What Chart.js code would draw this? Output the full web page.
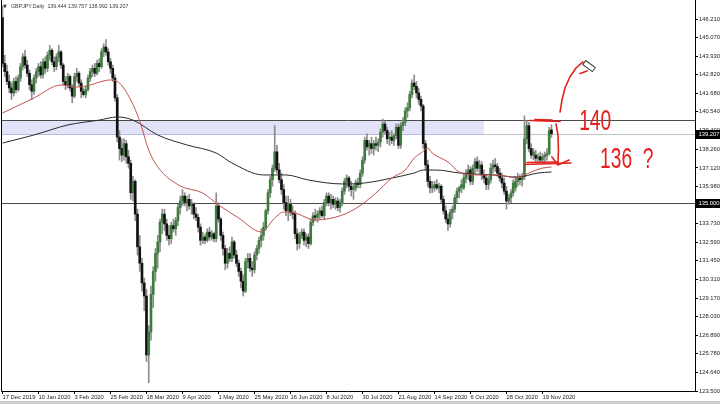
<!DOCTYPE html>
<html>
<head>
<meta charset="utf-8">
<script src="https://cdn.jsdelivr.net/npm/chart.js@4.4.1/dist/chart.umd.min.js"></script>
<style>
  html, body { margin: 0; padding: 0; background: #fff; }
  #wrap { width: 720px; height: 404px; }
</style>
</head>
<body>
<div id="wrap"><canvas id="chart" width="720" height="404"></canvas></div>
<script>
/* ===== DATA (GBPJPY daily, 17 Dec 2019 .. 25 Nov 2020) ===== */
const opens = [
  146.3,143.5,143.0,142.4,142.0,141.7,142.4,141.9,142.6,143.3,
  143.9,143.4,142.9,142.2,141.8,142.6,143.0,143.3,142.8,143.6,
  143.2,144.0,144.3,143.6,143.3,143.9,144.2,143.4,142.4,142.2,
  142.7,142.0,141.5,142.7,142.9,142.3,141.8,141.6,141.9,142.6,
  143.0,143.2,142.9,143.5,143.3,144.2,144.5,144.2,143.6,143.2,
  142.6,141.4,139.0,138.3,137.9,138.6,137.8,137.4,135.6,136.3,
  134.3,132.3,131.3,130.1,129.3,125.7,127.1,129.4,130.8,131.9,
  132.6,133.8,134.3,133.7,133.0,132.8,133.6,133.4,133.9,134.7,
  135.1,135.4,135.0,135.2,134.8,134.9,134.3,134.1,133.5,132.7,
  132.9,132.7,133.2,132.9,133.1,132.8,134.8,134.0,133.0,132.2,
  131.3,131.9,131.6,132.6,131.8,131.3,130.8,130.2,129.6,131.4,
  131.6,131.0,130.9,131.8,132.2,132.7,133.0,133.5,134.5,135.6,
  136.4,137.1,138.1,137.0,136.4,135.8,135.0,134.5,134.9,134.4,
  134.3,133.1,132.5,133.0,133.2,132.7,132.9,132.5,133.8,134.2,
  134.1,134.3,134.5,134.2,135.0,135.4,135.0,135.2,134.9,135.1,
  134.7,135.0,135.7,136.3,136.5,136.0,135.8,135.9,136.2,136.1,
  136.8,137.6,138.8,138.4,138.6,138.3,138.6,138.5,138.7,139.3,
  139.8,139.4,138.9,139.0,138.8,139.1,139.6,138.5,139.7,139.9,
  140.6,140.8,141.6,142.3,142.1,141.7,141.3,140.9,138.6,137.3,
  136.3,135.9,135.9,136.1,135.9,136.0,135.2,134.5,134.0,133.7,
  134.4,134.6,135.3,135.7,135.9,135.9,136.5,136.8,137.0,136.3,
  137.1,137.5,137.1,137.3,136.7,136.5,136.1,136.4,137.1,137.3,
  137.2,136.8,136.5,136.2,135.7,135.1,135.3,135.6,135.9,136.3,
  136.5,136.4,136.6,138.9,139.7,138.3,137.9,137.9,137.7,137.8,
  137.6,137.8,137.9,138.0,139.444
];
const highs = [
  147.0,144.0,143.4,142.8,142.3,142.6,142.7,142.8,143.5,144.1,
  144.3,143.7,143.1,142.5,142.8,143.2,143.5,143.6,143.8,143.9,
  144.2,144.6,144.4,143.9,144.1,144.6,144.3,143.5,142.7,142.9,
  142.8,142.2,142.9,143.2,143.0,142.5,142.0,142.1,142.8,143.2,
  143.4,143.5,143.7,143.8,144.4,144.7,144.95,144.4,143.8,143.4,
  142.8,141.6,139.4,138.9,138.9,138.8,138.2,137.6,136.6,136.4,
  134.6,133.0,131.6,130.4,129.7,127.5,129.9,131.1,132.2,133.0,
  134.0,134.6,134.6,134.0,133.6,133.8,134.0,134.1,134.9,135.4,
  135.8,135.6,135.4,135.5,135.2,135.0,134.7,134.3,133.7,133.2,
  133.1,133.4,133.5,133.3,133.2,135.6,135.0,134.1,133.2,132.4,
  132.2,132.3,132.9,132.7,132.1,131.5,131.0,130.6,131.6,131.9,
  131.9,131.4,132.0,132.4,132.9,133.4,133.8,134.6,135.8,136.6,
  137.3,139.7,138.5,137.4,136.8,136.1,135.4,135.4,135.2,134.8,
  134.5,133.4,133.2,133.4,133.4,133.1,133.1,134.0,134.4,134.6,
  134.5,134.7,134.8,135.2,135.6,135.6,135.5,135.4,135.3,135.3,
  135.2,135.9,136.5,136.7,136.6,136.3,136.1,136.4,136.5,137.0,
  137.8,139.0,139.2,138.8,139.0,138.8,139.0,138.9,139.5,140.1,
  140.0,139.6,139.3,139.4,139.2,139.8,139.8,139.9,140.2,140.8,
  141.1,141.8,142.5,142.8,142.4,142.0,141.5,141.0,138.8,137.6,
  136.6,136.3,136.3,136.4,136.2,136.1,135.4,134.8,134.3,134.6,
  134.8,135.5,135.9,136.0,136.4,136.8,137.0,137.3,137.2,137.3,
  137.7,137.8,137.6,137.5,137.0,136.7,136.6,137.4,137.6,137.7,
  137.4,137.1,136.8,136.5,136.0,135.5,135.8,136.4,136.6,136.8,
  136.7,136.8,140.3,140.0,139.9,138.6,138.3,138.2,138.0,138.1,
  138.0,138.1,138.3,139.6,139.757
];
const lows = [
  143.3,142.7,142.2,141.7,141.3,141.5,141.7,141.8,142.4,143.1,
  143.2,142.7,141.9,141.3,141.6,142.3,142.7,142.6,142.6,142.9,
  143.0,143.7,143.4,143.0,143.1,143.6,143.2,142.2,141.9,142.0,
  141.8,141.1,141.4,142.4,142.1,141.4,141.5,141.4,141.8,142.4,
  142.7,142.7,142.8,143.0,143.2,143.9,144.0,143.4,142.9,142.4,
  141.2,138.7,137.6,137.5,137.6,137.4,137.1,135.2,135.1,133.9,
  131.8,130.8,129.6,128.4,125.3,124.0,126.6,128.6,130.2,131.0,
  132.0,133.1,133.3,132.7,132.4,132.5,133.2,133.0,133.6,134.3,
  134.8,134.8,134.5,134.6,134.3,134.0,133.9,133.2,132.4,132.5,
  132.5,132.6,132.7,132.7,132.6,132.6,133.8,132.7,131.8,130.9,
  131.0,131.4,131.4,131.6,131.1,130.5,129.8,129.3,129.5,131.0,
  130.8,130.5,130.7,131.5,131.9,132.3,132.7,133.3,134.3,135.3,
  136.0,136.9,136.8,136.2,135.5,134.6,134.2,133.9,134.2,134.0,
  132.8,132.1,132.2,132.8,132.4,132.3,132.2,132.4,133.6,133.9,
  133.8,134.0,134.1,134.0,134.8,134.8,134.6,134.7,134.6,134.5,
  134.4,134.8,135.5,135.9,135.7,135.4,135.2,135.7,135.9,135.9,
  136.6,137.4,138.2,137.9,138.0,137.9,138.2,138.1,138.4,139.0,
  139.2,138.6,138.5,138.6,138.5,138.9,138.3,138.3,139.4,139.7,
  140.2,140.6,141.4,141.9,141.4,141.0,140.6,138.3,137.0,136.0,
  135.6,135.6,135.7,135.8,135.6,135.0,134.3,133.8,133.3,133.5,
  134.0,134.4,135.0,135.3,135.6,135.8,136.2,136.4,136.1,136.1,
  136.8,136.9,136.8,136.4,136.2,135.8,135.8,136.2,136.8,136.9,
  136.6,136.3,135.9,135.5,134.6,134.9,135.0,135.4,135.7,136.0,
  136.1,136.0,136.4,138.6,138.1,137.7,137.6,137.5,137.4,137.5,
  137.4,137.4,137.6,137.9,138.992
];
const closes = [
  143.5,143.0,142.4,142.0,141.7,142.4,141.9,142.6,143.3,143.9,
  143.4,142.9,142.2,141.8,142.6,143.0,143.3,142.8,143.6,143.2,
  144.0,144.3,143.6,143.3,143.9,144.2,143.4,142.4,142.2,142.7,
  142.0,141.5,142.7,142.9,142.3,141.8,141.6,141.9,142.6,143.0,
  143.2,142.9,143.5,143.3,144.2,144.5,144.2,143.6,143.2,142.6,
  141.4,139.0,138.3,137.9,138.6,137.8,137.4,135.6,136.3,134.3,
  132.3,131.3,130.1,129.3,125.7,127.1,129.4,130.8,131.9,132.6,
  133.8,134.3,133.7,133.0,132.8,133.6,133.4,133.9,134.7,135.1,
  135.4,135.0,135.2,134.8,134.9,134.3,134.1,133.5,132.7,132.9,
  132.7,133.2,132.9,133.1,132.8,134.8,134.0,133.0,132.2,131.3,
  131.9,131.6,132.6,131.8,131.3,130.8,130.2,129.6,131.4,131.6,
  131.0,130.9,131.8,132.2,132.7,133.0,133.5,134.5,135.6,136.4,
  137.1,138.1,137.0,136.4,135.8,135.0,134.5,134.9,134.4,134.3,
  133.1,132.5,133.0,133.2,132.7,132.9,132.5,133.8,134.2,134.1,
  134.3,134.5,134.2,135.0,135.4,135.0,135.2,134.9,135.1,134.7,
  135.0,135.7,136.3,136.5,136.0,135.8,135.9,136.2,136.1,136.8,
  137.6,138.8,138.4,138.6,138.3,138.6,138.5,138.7,139.3,139.8,
  139.4,138.9,139.0,138.8,139.1,139.6,138.5,139.7,139.9,140.6,
  140.8,141.6,142.3,142.1,141.7,141.3,140.9,138.6,137.3,136.3,
  135.9,136.0,136.1,135.9,136.0,135.2,134.5,134.0,133.7,134.4,
  134.6,135.3,135.7,135.9,136.1,136.5,136.8,137.0,136.3,137.1,
  137.5,137.1,137.3,136.7,136.5,136.1,136.4,137.1,137.3,137.2,
  136.8,136.5,136.2,135.7,135.1,135.3,135.6,136.2,136.3,136.5,
  136.4,136.6,138.9,139.7,138.3,137.9,138.1,137.7,137.8,137.6,
  137.8,137.9,138.0,139.4,139.207
];

// moving averages (bar index -> price)
const maRedIdx = [0,14,26,33,39,43,48,52,57,61,65,69,79,89,96,105,115,121,125,130,139,151,158,166,173,179,183,186,189,191,198,203,211,220,229,232,240,244];
const maRedVal = [140.47,141.39,142.18,142.06,142.18,142.36,142.49,142.3,141.27,139.98,138.21,137.18,136.02,135.59,134.86,134.06,133.21,134.06,134.43,134.37,133.94,134.24,134.73,135.59,136.5,136.99,137.72,138.03,138.33,138.03,137.48,136.87,136.69,136.69,136.5,136.69,137.11,137.17];
const maBlackIdx = [0,14,29,43,51,58,69,82,95,102,116,126,136,151,161,173,183,187,193,203,218,229,238,244];
const maBlackVal = [138.64,139.13,139.74,140.04,140.23,140.04,139.13,138.52,138.03,137.42,136.69,136.69,136.38,136.14,136.2,136.5,136.81,136.99,136.99,136.81,136.69,136.56,136.81,136.87];

const dateTicks = [0,16,32,48,64,80,96,112,128,144,160,176,192,208,224,240];
const dateLabels = ["17 Dec 2019","10 Jan 2020","3 Feb 2020","25 Feb 2020","18 Mar 2020","9 Apr 2020","1 May 2020","25 May 2020","16 Jun 2020","8 Jul 2020","30 Jul 2020","21 Aug 2020","14 Sep 2020","6 Oct 2020","28 Oct 2020","19 Nov 2020"];
const priceTicks = [146.21,145.07,143.93,142.82,141.68,140.54,139.40,138.26,137.12,135.98,134.87,133.73,132.59,131.45,130.31,129.17,128.03,126.89,125.78,124.64,123.50];

const resistance = 140.04;
const support = 135.0;
const bid = 139.207;
const zoneLow = 139.2;
const zoneEnd = 214;
const header = "GBPJPY,Daily  139.444 139.757 138.992 139.207";

/* ===== PEN MARKUP (bar index, price) ===== */
const penStrokes = [
  [[234.4,140.01],[247.8,139.95]],
  [[236.7,140.08],[244.2,140.04]],
  [[246.0,139.80],[246.9,139.13],[247.1,138.21],[246.9,137.42]],
  [[244.2,137.79],[246.9,137.30],[251.8,137.60]],
  [[232.2,137.33],[252.7,137.42]],
  [[233.1,137.45],[246.7,137.48]],
  [[247.8,140.53],[248.7,141.27],[250.0,142.00],[252.2,142.67],[254.9,143.22],[258.0,143.59]],
  [[256.7,142.88],[259.8,143.04]]
];
const penNotes = [
  { text: "140", at: [256.3, 139.43] },
  { text: "136  ?", at: [265.6, 137.11] }
];
const penCursor = [260.7, 143.34];

const axisFont = { family: "'Liberation Sans', Arial, sans-serif", size: 5.8 };
const idx = closes.map((_, i) => i);

/* ===== PLUGINS ===== */
const backdrop = {
  id: "backdrop",
  beforeDatasetsDraw(chart) {
    const { ctx, chartArea: a, scales: { x, y } } = chart;
    const hline = (v, color, x2) => {
      const py = Math.round(y.getPixelForValue(v)) + 0.5;
      ctx.strokeStyle = color;
      ctx.lineWidth = 1;
      ctx.beginPath();
      ctx.moveTo(a.left, py);
      ctx.lineTo(x2 || a.right, py);
      ctx.stroke();
    };
    ctx.save();
    const zTop = y.getPixelForValue(resistance);
    const zBot = y.getPixelForValue(zoneLow);
    const zRight = x.getPixelForValue(zoneEnd);
    ctx.fillStyle = "#e2e2f8";
    ctx.fillRect(a.left, zTop, zRight - a.left, zBot - zTop);
    hline(bid, "#c2c2c2");
    hline(zoneLow, "#b8b8e6", zRight);
    hline(resistance, "#4a4a4a");
    hline(support, "#4a4a4a");
    ctx.restore();
  }
};

const overlay = {
  id: "overlay",
  afterDraw(chart) {
    const { ctx, chartArea: a, scales: { x, y } } = chart;
    ctx.save();

    // frame
    ctx.strokeStyle = "#000";
    ctx.lineWidth = 1;
    ctx.beginPath();
    ctx.moveTo(a.left - 0.5, 0);
    ctx.lineTo(a.left - 0.5, a.bottom + 0.5);
    ctx.lineTo(a.right + 0.5, a.bottom + 0.5);
    ctx.lineTo(a.right + 0.5, 0);
    ctx.stroke();

    // price boxes on the axis
    ctx.font = "5.8px 'Liberation Sans', Arial, sans-serif";
    ctx.textBaseline = "middle";
    ctx.textAlign = "left";
    [[bid, "139.207"], [support, "135.000"]].forEach(([v, label]) => {
      const py = Math.round(y.getPixelForValue(v));
      ctx.fillStyle = "#000";
      ctx.fillRect(a.right + 1, py - 4, 25, 9);
      ctx.fillStyle = "#fff";
      ctx.fillText(label, a.right + 3.5, py + 0.5);
    });

    // header
    ctx.fillStyle = "#3a3a3a";
    ctx.font = "5px 'DejaVu Sans', sans-serif";
    ctx.fillText("\u25BC", 3, 7);
    ctx.font = "5.3px 'Liberation Sans', Arial, sans-serif";
    ctx.fillText(header, 11, 7);

    // pen markup
    ctx.strokeStyle = "#e4211b";
    ctx.lineWidth = 1.6;
    ctx.lineCap = "round";
    ctx.lineJoin = "round";
    penStrokes.forEach(s => {
      ctx.beginPath();
      s.forEach(([i, p], k) => {
        const px = x.getPixelForValue(i), py = y.getPixelForValue(p);
        k ? ctx.lineTo(px, py) : ctx.moveTo(px, py);
      });
      ctx.stroke();
    });
    ctx.fillStyle = "#e4211b";
    ctx.font = "30px 'Liberation Sans', Arial, sans-serif";
    ctx.textBaseline = "alphabetic";
    penNotes.forEach(n => {
      ctx.save();
      ctx.translate(x.getPixelForValue(n.at[0]), y.getPixelForValue(n.at[1]));
      ctx.scale(0.64, 1);
      ctx.fillText(n.text, 0, 0);
      ctx.restore();
    });

    // pencil cursor
    const cx = x.getPixelForValue(penCursor[0]), cy = y.getPixelForValue(penCursor[1]);
    ctx.translate(cx, cy);
    ctx.rotate(Math.PI / 5);
    ctx.fillStyle = "#fff";
    ctx.strokeStyle = "#333";
    ctx.lineWidth = 1;
    ctx.fillRect(-6, -2.5, 12, 5);
    ctx.strokeRect(-6, -2.5, 12, 5);
    ctx.setTransform(1, 0, 0, 1, 0, 0);

    // bottom strip
    ctx.fillStyle = "#cdcdcd";
    ctx.fillRect(0, 401, 720, 3);
    ctx.restore();
  }
};

/* ===== CHART ===== */
new Chart(document.getElementById("chart"), {
  type: "bar",
  data: {
    datasets: [
      {
        type: "line",
        data: maRedIdx.map((v, k) => ({ x: v, y: maRedVal[k] })),
        borderColor: "#c4504c",
        borderWidth: 1,
        pointRadius: 0,
        cubicInterpolationMode: "monotone",
        order: 0
      },
      {
        type: "line",
        data: maBlackIdx.map((v, k) => ({ x: v, y: maBlackVal[k] })),
        borderColor: "#2a2a2a",
        borderWidth: 1,
        pointRadius: 0,
        cubicInterpolationMode: "monotone",
        order: 0
      },
      {
        data: idx.map(i => ({ x: i, y: [opens[i], closes[i]] })),
        backgroundColor: c => closes[c.dataIndex] >= opens[c.dataIndex] ? "#3d7c3d" : "#111",
        barThickness: 2,
        minBarLength: 1,
        grouped: false,
        order: 1
      },
      {
        data: idx.map(i => ({ x: i, y: [lows[i], highs[i]] })),
        backgroundColor: "#8c8c8c",
        barThickness: 1,
        grouped: false,
        order: 2
      }
    ]
  },
  options: {
    responsive: false,
    animation: false,
    devicePixelRatio: 1,
    layout: { padding: { left: 2, top: 1, right: 0, bottom: 3 } },
    plugins: { legend: { display: false }, tooltip: { enabled: false } },
    scales: {
      x: {
        type: "linear",
        min: -0.22,
        max: 307.8,
        offset: false,
        grid: { drawOnChartArea: false, tickLength: 3, color: "#000", offset: false },
        border: { display: false },
        ticks: {
          autoSkip: false,
          maxRotation: 0,
          align: "start",
          padding: 0,
          color: "#222",
          font: axisFont,
          callback: (v, i) => dateLabels[i]
        },
        afterBuildTicks: axis => { axis.ticks = dateTicks.map(v => ({ value: v })); },
        afterFit: axis => { axis.height = 10; axis.paddingLeft = 0; axis.paddingRight = 0; }
      },
      y: {
        type: "linear",
        position: "right",
        min: 123.5,
        max: 147.31,
        beginAtZero: false,
        grid: { drawOnChartArea: false, tickLength: 3, color: "#000" },
        border: { display: false },
        ticks: {
          padding: 1,
          color: "#222",
          font: axisFont,
          callback: v => v.toFixed(3)
        },
        afterBuildTicks: axis => { axis.ticks = priceTicks.map(v => ({ value: v })); },
        afterFit: axis => { axis.width = 25; axis.paddingTop = 0; axis.paddingBottom = 0; }
      }
    }
  },
  plugins: [backdrop, overlay]
});
</script>
</body>
</html>
